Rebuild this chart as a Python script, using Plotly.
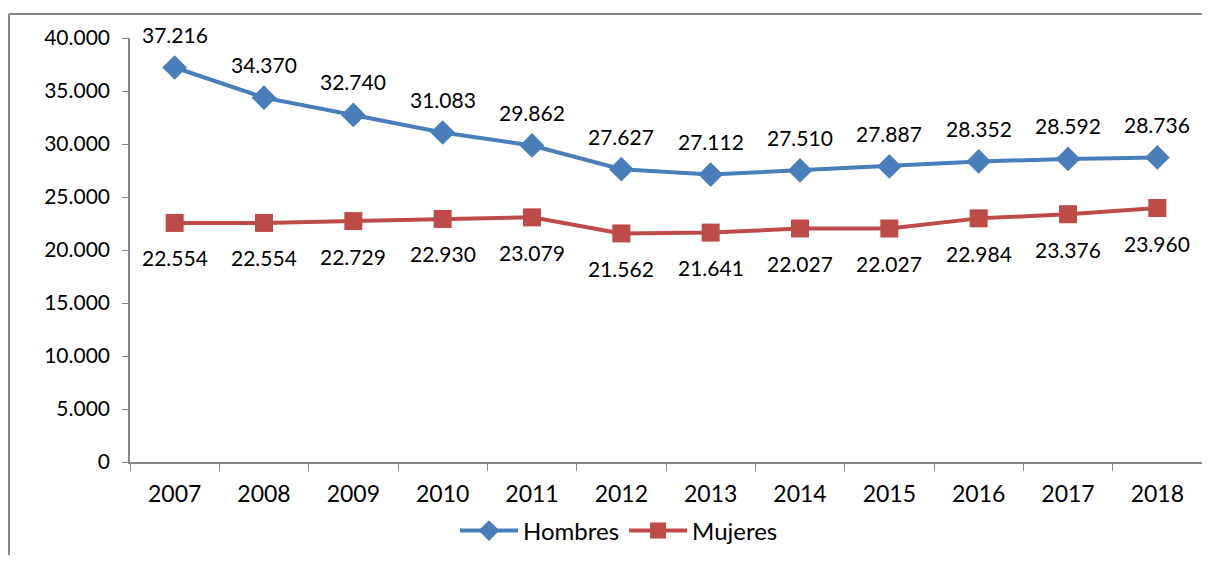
"""Hombres / Mujeres line chart, 2007-2018, Excel-style."""

import plotly.graph_objects as go

YEARS = ["2007", "2008", "2009", "2010", "2011", "2012",
         "2013", "2014", "2015", "2016", "2017", "2018"]
HOMBRES = [37216, 34370, 32740, 31083, 29862, 27627,
           27112, 27510, 27887, 28352, 28592, 28736]
MUJERES = [22554, 22554, 22729, 22930, 23079, 21562,
           21641, 22027, 22027, 22984, 23376, 23960]

BLUE = "#4A7EBB"
RED = "#BE4B48"
AXIS = "#868686"
FONT = "Lato, 'Open Sans', sans-serif"

# page has an 8px body margin, so the figure is drawn from (8, 8);
# keep it small enough that no scrollbar appears
W, H = 1194, 547
L, R, T, B = 122, 0, 30, 93
PW, PH = W - L - R, H - T - B


def fmt(v):
    return f"{v:,}".replace(",", ".")


fig = go.Figure()
fig.add_trace(go.Scatter(
    x=YEARS, y=HOMBRES, name="Hombres", mode="lines+markers",
    line={"color": BLUE, "width": 4},
    marker={"symbol": "diamond", "size": 19, "color": BLUE},
))
fig.add_trace(go.Scatter(
    x=YEARS, y=MUJERES, name="Mujeres", mode="lines+markers",
    line={"color": RED, "width": 4},
    marker={"symbol": "square", "size": 18, "color": RED},
))

# data labels; x given as category index
for i, v in enumerate(HOMBRES):
    fig.add_annotation(x=i, y=v, text=fmt(v), showarrow=False,
                       yshift=33, font={"size": 21, "color": "black"})
for i, v in enumerate(MUJERES):
    fig.add_annotation(x=i, y=v, text=fmt(v), showarrow=False,
                       yshift=-35, font={"size": 21, "color": "black"})

# outer chart border: only top and left edges fall inside the page
x_left = (1 - L) / PW
y_top = 1 + (T - 6) / PH
y_bottom = -(H + 10 - T - PH) / PH
x_right = (W + 10 - L) / PW
border = {"color": AXIS, "width": 2}
fig.add_shape(type="line", xref="paper", yref="paper",
              x0=x_left, x1=x_right, y0=y_top, y1=y_top, line=border)
fig.add_shape(type="line", xref="paper", yref="paper",
              x0=x_left, x1=x_left, y0=y_bottom, y1=y_top, line=border)

fig.update_layout(
    width=W, height=H,
    margin={"l": L, "r": R, "t": T, "b": B},
    plot_bgcolor="white", paper_bgcolor="white",
    font={"family": FONT, "size": 21, "color": "black"},
    showlegend=True,
    legend={"orientation": "h", "x": (611 - L) / PW, "xanchor": "center",
            "y": -(523 - T - PH) / PH, "yanchor": "middle",
            "font": {"size": 24}, "itemwidth": 58, "tracegroupgap": 0},
    xaxis={"type": "category", "range": [-0.5, len(YEARS) - 0.5],
           "showline": True, "linecolor": AXIS,
           "linewidth": 1.5, "ticks": "outside", "tickson": "boundaries",
           "ticklen": 7, "tickcolor": AXIS, "showgrid": False,
           "tickangle": 0, "tickfont": {"size": 23},
           "ticklabelstandoff": 11},
    yaxis={"range": [0, 40000],
           "tickvals": list(range(0, 40001, 5000)),
           "ticktext": [fmt(v) for v in range(0, 40001, 5000)],
           "showline": True, "linecolor": AXIS, "linewidth": 1.5,
           "ticks": "outside", "ticklen": 6, "tickcolor": AXIS,
           "showgrid": False, "zeroline": False, "tickfont": {"size": 21},
           "ticklabelstandoff": 8},
)

fig.write_html("out.html")
